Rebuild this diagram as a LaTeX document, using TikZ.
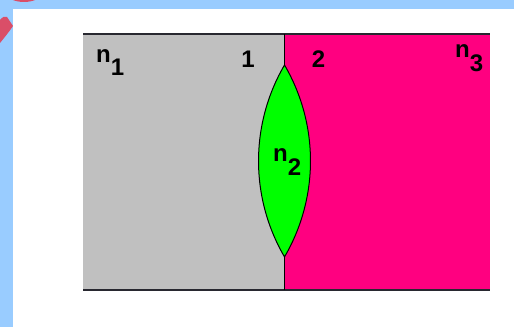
\documentclass[tikz,border=0pt]{standalone}
\usepackage{fontspec}
\setmainfont{Liberation Sans}
\definecolor{bgblue}{RGB}{153,204,255}
\definecolor{decored}{RGB}{218,78,104}
\definecolor{grayreg}{RGB}{192,192,192}
\definecolor{magreg}{RGB}{255,0,128}
\definecolor{lensgreen}{RGB}{0,255,0}
\definecolor{edgeline}{RGB}{40,40,48}
\begin{document}
\begin{tikzpicture}[x=1pt,y=1pt,
  lbl/.style={inner sep=0pt,font=\fontsize{24}{28}\selectfont\bfseries},
  edge/.style={draw=edgeline,line width=1.8pt},
  divider/.style={draw=black,line width=1.2pt}]
\useasboundingbox (0,0) rectangle (514,327);
% slide background
\fill[bgblue] (0,0) rectangle (514,327);
\begin{scope}
\clip (0,0) rectangle (514,327);
\fill[decored] (24,357) circle[radius=32];
\fill[decored] (0,307) .. controls (2,310) and (5,311) .. (7,310) -- (13,301)
  .. controls (9,295) and (4,289) .. (0,284) -- cycle;
\end{scope}
\fill[white] (13,0) rectangle (514,318);
% media
\fill[grayreg] (83,37) rectangle (285,293);
\fill[magreg] (285,37) rectangle (490,293);
\draw[edge] (83,293) -- (490,293);
\draw[edge] (83,37) -- (490,37);
% lens
\coordinate (ltop) at (284.5,262);
\coordinate (lbot) at (284.5,70);
\coordinate (dtop) at (284.5,293);
\coordinate (dbot) at (284.5,37);
\draw[divider] (dtop) -- (ltop);
\draw[divider] (lbot) -- (dbot);
\filldraw[fill=lensgreen,draw=black,line width=1pt]
  (ltop) arc[start angle=149.7,end angle=210.3,radius=190.2]
  arc[start angle=-30.3,end angle=30.3,radius=190.2] -- cycle;
% labels
\node[lbl,anchor=base west] (n1) at (96,264) {n\raisebox{-13pt}{1}};
\node[lbl,anchor=base] (s1) at (248,259) {1};
\node[lbl,anchor=base] (s2) at (318.5,259) {2};
\node[lbl,anchor=base west] (n3) at (455,269) {n\raisebox{-14pt}{3}};
\node[lbl,anchor=base west] (n2) at (273,165) {n\raisebox{-14pt}{2}};
\end{tikzpicture}
\end{document}
